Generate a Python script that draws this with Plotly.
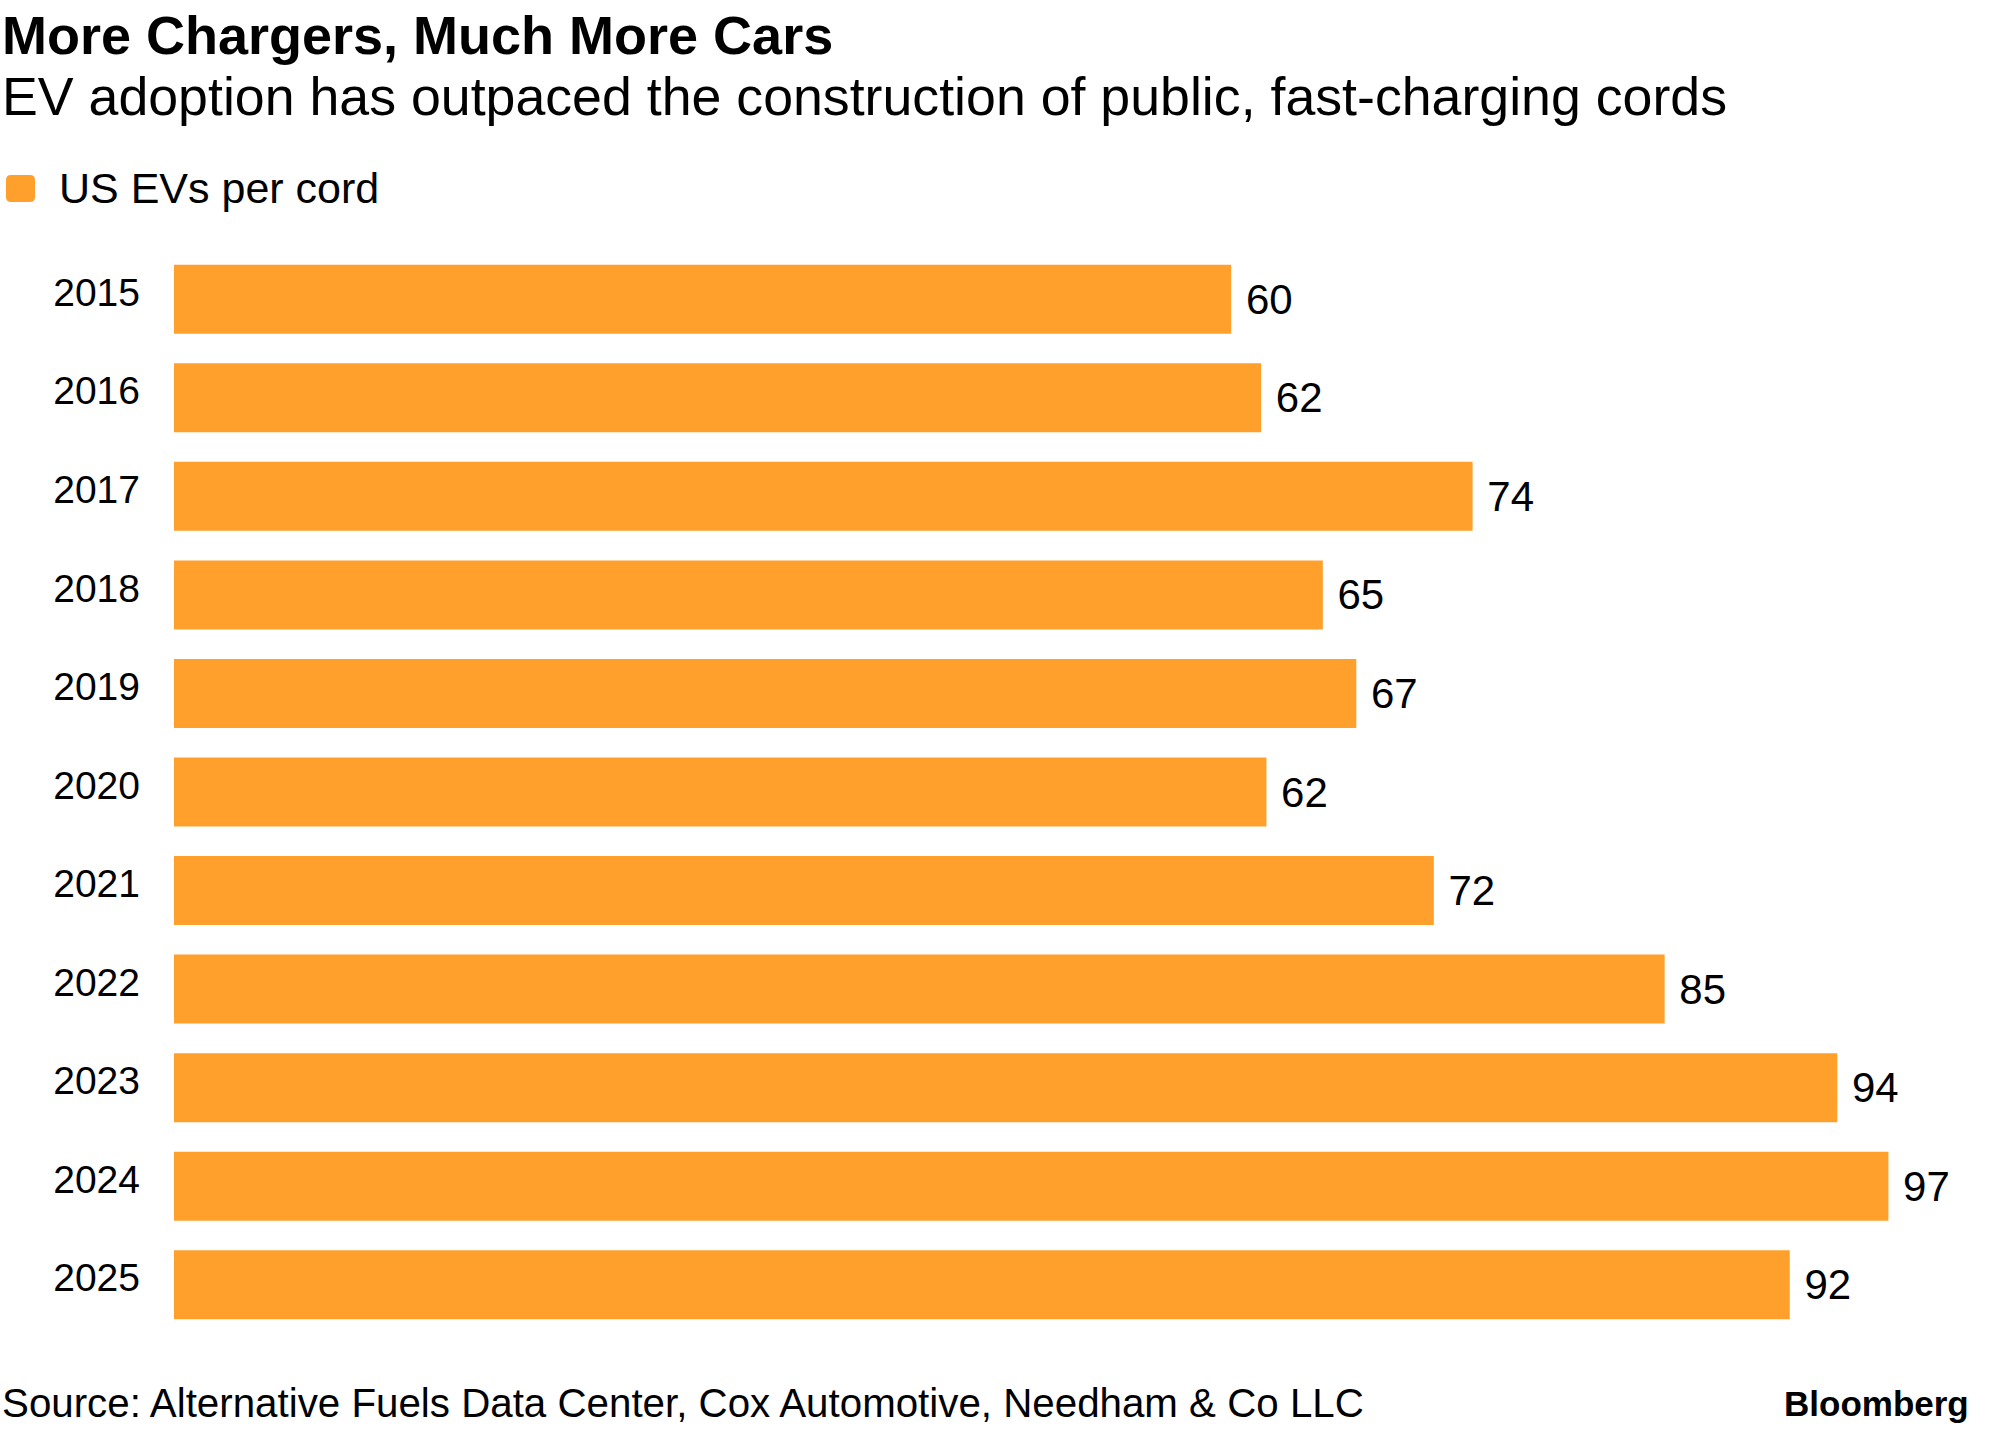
import plotly.graph_objects as go

years = ["2015", "2016", "2017", "2018", "2019", "2020", "2021", "2022", "2023", "2024", "2025"]
# bar lengths (the printed labels are rounded)
evs_per_cord = [60.0, 61.7, 73.7, 65.2, 67.1, 62.0, 71.5, 84.6, 94.4, 97.3, 91.7]
value_labels = ["60", "62", "74", "65", "67", "62", "72", "85", "94", "97", "92"]

title = "More Chargers, Much More Cars"
subtitle = "EV adoption has outpaced the construction of public, fast-charging cords"
legend_label = "US EVs per cord"
source = "Source: Alternative Fuels Data Center, Cox Automotive, Needham & Co LLC"
brand = "Bloomberg"

W, H = 2005, 1431
ML, MT = 174, 250
PW, PH = 1800, 1084
MR = W - ML - PW
MB = H - MT - PH

ORANGE = "#FFA02C"
FONT = "Liberation Sans"


def px(x):
    """page pixel x -> paper x"""
    return (x - ML) / PW


def py(y):
    """page pixel y -> paper y"""
    return (MT + PH - y) / PH


fig = go.Figure()
fig.add_trace(go.Bar(
    y=years,
    x=evs_per_cord,
    orientation="h",
    marker=dict(color=ORANGE, line=dict(width=0)),
    text=[" " + t for t in value_labels],
    textposition="outside",
    textfont=dict(family=FONT, size=42, color="#000000"),
    constraintext="none",
    cliponaxis=False,
    showlegend=False,
    hoverinfo="skip",
))

annotations = [
    dict(text=f"<b>{title}</b>", x=px(1), y=py(35), xref="paper", yref="paper",
         xanchor="left", yanchor="middle", showarrow=False, borderpad=0,
         font=dict(family=FONT, size=54, color="#000000")),
    dict(text=subtitle, x=px(1), y=py(96), xref="paper", yref="paper",
         xanchor="left", yanchor="middle", showarrow=False, borderpad=0,
         font=dict(family=FONT, size=53.7, color="#000000")),
    dict(text=legend_label, x=px(58), y=py(188), xref="paper", yref="paper",
         xanchor="left", yanchor="middle", showarrow=False, borderpad=0,
         font=dict(family=FONT, size=43, color="#000000")),
    dict(text=source, x=px(1), y=py(1403), xref="paper", yref="paper",
         xanchor="left", yanchor="middle", showarrow=False, borderpad=0,
         font=dict(family=FONT, size=40.3, color="#000000")),
    dict(text=f"<b>{brand}</b>", x=px(1970), y=py(1403), xref="paper", yref="paper",
         xanchor="right", yanchor="middle", showarrow=False, borderpad=0,
         font=dict(family=FONT, size=35, color="#000000")),
]

# rounded legend swatch
x0, x1, y0, y1, r = px(6), px(35), py(175), py(202), 5
rx, ry = r / PW, r / PH
path = (f"M {x0+rx},{y0} L {x1-rx},{y0} Q {x1},{y0} {x1},{y0-ry} "
        f"L {x1},{y1+ry} Q {x1},{y1} {x1-rx},{y1} L {x0+rx},{y1} "
        f"Q {x0},{y1} {x0},{y1+ry} L {x0},{y0-ry} Q {x0},{y0} {x0+rx},{y0} Z")
shapes = [dict(type="path", path=path, xref="paper", yref="paper",
               fillcolor=ORANGE, line=dict(width=0))]

fig.update_layout(
    width=W, height=H,
    margin=dict(l=ML, r=MR, t=MT, b=MB, pad=0),
    paper_bgcolor="white", plot_bgcolor="white",
    bargap=0.3,
    annotations=annotations,
    shapes=shapes,
    xaxis=dict(range=[0, PW / 17.62], visible=False, showgrid=False, zeroline=False, fixedrange=True),
    yaxis=dict(autorange="reversed", type="category", showgrid=False, zeroline=False,
               showline=False, ticks="", ticklabelstandoff=33, ticklabelshift=7,
               tickfont=dict(family=FONT, size=39, color="#000000")),
)

# let the figure fill the 2005x1431 window exactly (drop the default body margin)
fig.write_html("out.html", config={"displayModeBar": False},
               post_script="document.body.style.margin='0';document.body.style.overflow='hidden';")
